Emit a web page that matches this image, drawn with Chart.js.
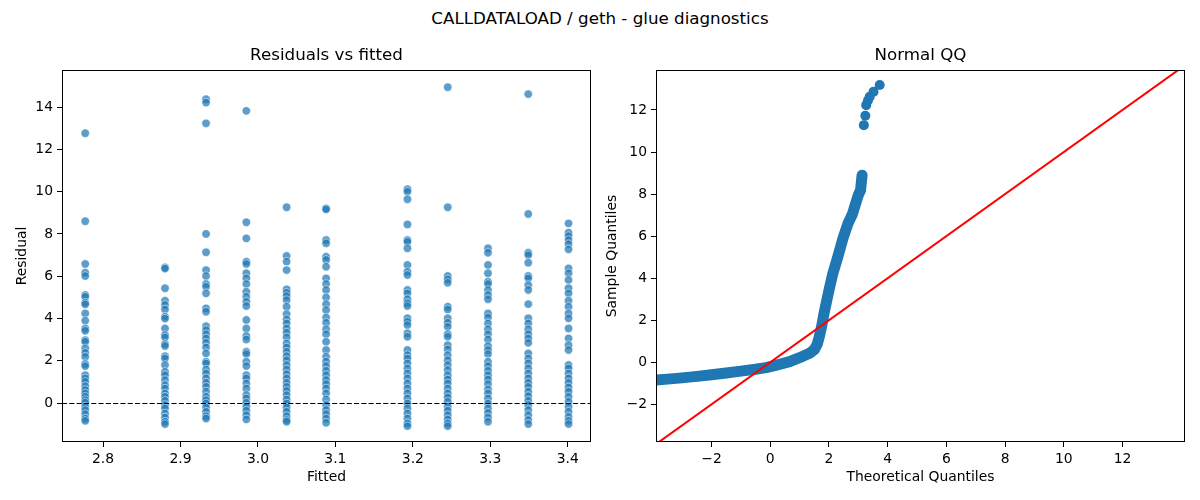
<!DOCTYPE html>
<html lang="en">
<head>
<meta charset="UTF-8">
<title>CALLDATALOAD / geth - glue diagnostics</title>
<script src="https://cdn.jsdelivr.net/npm/chart.js@4"></script>
<style>
  html, body { margin: 0; padding: 0; background: #fff; overflow: hidden; }
  #page { position: relative; width: 1200px; height: 500px; font-family: "DejaVu Sans", sans-serif; }
  #suptitle { position: absolute; top: 8px; left: 0; width: 1200px; text-align: center;
              font-size: 16.7px; line-height: 20px; color: #000; }
  .panel { position: absolute; top: 0; width: 600px; height: 500px; }
</style>
</head>
<body>
<div id="page">
  <div id="suptitle">CALLDATALOAD / geth - glue diagnostics</div>
  <div class="panel" style="left:0"><canvas id="resid" width="600" height="500"></canvas></div>
  <div class="panel" style="left:600px"><canvas id="qq" width="600" height="500"></canvas></div>
</div>
<script>
// fitted levels (one column of residuals each)
const fittedLevels = [2.777, 2.880, 2.933, 2.985, 3.037, 3.088, 3.193, 3.245, 3.297, 3.349, 3.401];

// residuals
const res2777 = [12.76, 8.6, 6.58, 6.17, 6.01, 5.11, 5.03, 4.75, 4.67, 4.24, 3.9, 3.53, 3.42, 2.98, 2.9, 2.59, 2.38, 2.19,
  1.85, 1.75, 1.32, 1.17, 1.01, 0.8, 0.62, 0.46, 0.3, 0.14, 0.02, -0.17, -0.33, -0.52, -0.73, -0.84];
const res2880 = [6.42, 6.36, 5.43, 4.84, 4.64, 4.43, 4.09, 4.0, 3.53, 3.22, 3.11, 2.79, 2.7, 2.22, 2.11, 1.8, 1.48, 1.32,
  1.09, 0.85, 0.69, 0.46, 0.3, 0.11, -0.09, -0.25, -0.49, -0.68, -0.88, -0.99];
const res2933 = [14.37, 14.21, 13.23, 8.0, 7.13, 6.29, 6.01, 5.63, 5.5, 5.19, 4.48, 4.32, 3.64, 3.45, 3.26, 3.06, 2.85, 2.63,
  2.35, 1.96, 1.88, 1.59, 1.4, 1.17, 0.96, 0.77, 0.54, 0.3, 0.14, -0.02, -0.21, -0.41, -0.62, -0.73];
const res2985 = [13.82, 8.55, 7.79, 6.69, 6.58, 6.14, 5.9, 5.63, 5.27, 5.03, 4.79, 4.59, 3.93, 3.53, 3.17, 3.01, 2.43, 2.32,
  1.96, 1.75, 1.32, 1.17, 0.93, 0.69, 0.38, 0.22, 0.02, -0.17, -0.36, -0.57, -0.77];
const res3037 = [9.26, 6.96, 6.69, 6.29, 5.38, 5.22, 5.06, 4.87, 4.56, 4.21, 3.96, 3.77, 3.53, 3.33, 3.11, 2.82, 2.63, 2.43,
  2.22, 2.03, 1.8, 1.59, 1.37, 1.17, 0.96, 0.77, 0.58, 0.38, 0.17, -0.02, -0.21, -0.41, -0.62, -0.8, -0.88];
const res3088 = [9.21, 9.16, 7.71, 7.56, 6.92, 6.77, 6.45, 5.9, 5.63, 5.35, 5.0, 4.68, 4.4, 4.05, 3.8, 3.49, 3.26, 2.9,
  2.51, 2.19, 1.96, 1.75, 1.53, 1.32, 1.09, 0.9, 0.69, 0.46, 0.17, -0.09, -0.33, -0.52, -0.73, -0.93];
const res3193 = [10.11, 10.0, 9.64, 8.45, 7.71, 7.63, 7.32, 6.53, 6.21, 6.06, 5.35, 5.19, 4.91, 4.72, 4.59, 4.01, 3.85, 3.69,
  3.3, 3.14, 2.51, 2.27, 2.11, 1.88, 1.64, 1.4, 1.17, 0.93, 0.69, 0.46, 0.22, -0.02, -0.25, -0.49, -0.73, -0.96, -1.09];
const res3245 = [14.94, 9.26, 6.01, 5.85, 5.69, 4.56, 4.43, 4.01, 3.8, 3.61, 3.26, 3.14, 2.74, 2.54, 2.27, 2.03, 1.8, 1.56,
  1.32, 1.12, 0.93, 0.69, 0.46, 0.27, 0.06, -0.17, -0.36, -0.57, -0.77, -0.96, -1.09];
const res3297 = [7.32, 7.11, 6.53, 6.14, 5.74, 5.63, 5.35, 5.11, 4.91, 4.24, 4.05, 3.77, 3.49, 3.26, 3.01, 2.7, 2.51, 2.32,
  1.96, 1.75, 1.53, 1.32, 1.12, 0.9, 0.65, 0.46, 0.22, -0.02, -0.25, -0.46, -0.68, -0.88];
const res3349 = [14.61, 8.94, 7.11, 7.0, 6.64, 6.01, 5.9, 5.58, 5.35, 4.68, 4.01, 3.77, 3.49, 3.26, 3.06, 2.85, 2.35, 2.11,
  1.88, 1.64, 1.4, 1.17, 0.96, 0.77, 0.54, 0.33, 0.11, -0.09, -0.33, -0.57, -0.8, -0.99];
const res3401 = [8.5, 8.06, 7.9, 7.71, 7.52, 7.27, 6.37, 6.14, 5.82, 5.43, 5.19, 4.84, 4.56, 4.24, 4.01, 3.53, 3.06, 2.74,
  2.51, 1.8, 1.64, 1.4, 1.17, 0.96, 0.74, 0.54, 0.3, 0.06, -0.17, -0.41, -0.65, -0.84, -0.99];
const residColumns = [res2777, res2880, res2933, res2985, res3037, res3088, res3193, res3245, res3297, res3349, res3401];

// QQ: theoretical vs sample quantiles along the dense band
const qqTheo = [-3.89, -3.5, -3.0, -2.5, -2.0, -1.5, -1.0, -0.5, -0.14, 0.25, 0.66, 1.0, 1.34, 1.5, 1.6, 1.67, 1.75, 1.83,
  1.93, 2.03, 2.13, 2.3, 2.48, 2.65, 2.8, 2.9, 3.0, 3.08, 3.1, 3.13];
const qqSample = [-0.84, -0.8, -0.74, -0.67, -0.59, -0.51, -0.42, -0.33, -0.25, -0.12, 0.03, 0.22, 0.43, 0.6, 0.85, 1.2, 1.69, 2.3,
  2.96, 3.6, 4.2, 5.0, 5.9, 6.6, 7.05, 7.5, 7.95, 8.2, 8.5, 8.9];
// the separated top tail
const qqTailTheo = [3.19, 3.24, 3.27, 3.33, 3.39, 3.52, 3.73];
const qqTailSample = [11.28, 11.73, 12.23, 12.45, 12.63, 12.87, 13.19];
const qqLineEnds = [-5, 15];

// ticks and ranges
const residXTicks = [2.8, 2.9, 3.0, 3.1, 3.2, 3.3, 3.4];
const residYTicks = [0, 2, 4, 6, 8, 10, 12, 14];
const qqXTicks = [-2, 0, 2, 4, 6, 8, 10, 12];
const qqYTicks = [-2, 0, 2, 4, 6, 8, 10, 12];
const residXRange = [2.747, 3.430];
const residYRange = [-1.84, 15.75];
const qqXRange = [-3.89, 14.13];
const qqYRange = [-3.79, 13.9];
const zeroLine = 0;

const FONT = "DejaVu Sans";
const tickFont = { family: FONT, size: 13.9 };
const blue = "#1f77b4";

function minusFmt(v) {
    return v < 0 ? "\u2212" + Math.abs(v) : String(v);
}

// box around the plot area, like matplotlib spines
const framePlugin = {
    id: "frame",
    afterDraw(chart) {
        const a = chart.chartArea, c = chart.ctx;
        c.save();
        c.strokeStyle = "#000";
        c.lineWidth = 1;
        c.strokeRect(Math.round(a.left) + 0.5, Math.round(a.top) + 0.5,
            Math.round(a.right - a.left) - 1, Math.round(a.bottom - a.top) - 1);
        c.restore();
    }
};

// dashed horizontal line at residual 0
const zeroPlugin = {
    id: "zeroLine",
    afterDatasetsDraw(chart) {
        const a = chart.chartArea, c = chart.ctx;
        const y = Math.round(chart.scales.y.getPixelForValue(zeroLine)) + 0.5;
        c.save();
        c.strokeStyle = "#000";
        c.lineWidth = 1;
        c.setLineDash([5.1, 2.2]);
        c.beginPath();
        c.moveTo(a.left, y);
        c.lineTo(a.right, y);
        c.stroke();
        c.restore();
    }
};

function axis(range, ticks, fmt, title, isX, size, titlePad) {
    return {
        type: "linear",
        position: isX ? "bottom" : "left",
        min: range[0],
        max: range[1],
        afterBuildTicks: s => { s.ticks = ticks.map(v => ({ value: v })); },
        afterFit: s => { if (isX) s.height = size; else s.width = size; },
        grid: { display: true, drawOnChartArea: false, drawTicks: true, tickLength: 5, color: "#000", tickWidth: 1 },
        border: { display: false },
        ticks: { color: "#000", font: tickFont, padding: 4, autoSkip: false, maxRotation: 0, callback: fmt },
        title: { display: true, text: title, color: "#000", font: tickFont, padding: titlePad }
    };
}

function panelTitle(text) {
    return {
        display: true, text: text, fullSize: false, color: "#000",
        font: { family: FONT, size: 16.7, weight: "normal" },
        padding: { top: 46, bottom: 4 }
    };
}

// residuals vs fitted
const residPoints = [];
residColumns.forEach((col, i) => {
    col.forEach(v => residPoints.push({ x: fittedLevels[i], y: v }));
});

new Chart(document.getElementById("resid"), {
    type: "scatter",
    data: {
        datasets: [{
            data: residPoints,
            pointRadius: 4.2,
            pointBackgroundColor: "rgba(31,119,180,0.72)",
            pointBorderColor: "rgba(255,255,255,0.7)",
            pointBorderWidth: 0.7
        }]
    },
    options: {
        responsive: false,
        animation: false,
        devicePixelRatio: 1,
        layout: { padding: { left: 0, right: 9, top: 0, bottom: 0 } },
        plugins: { legend: { display: false }, tooltip: { enabled: false }, title: panelTitle("Residuals vs fitted") },
        scales: {
            x: axis(residXRange, residXTicks, v => v.toFixed(1), "Fitted", true, 58, { top: 0, bottom: 14.7 }),
            y: axis(residYRange, residYTicks, v => minusFmt(v), "Residual", false, 62, { top: 14, bottom: 0 })
        }
    },
    plugins: [framePlugin, zeroPlugin]
});

// normal QQ
new Chart(document.getElementById("qq"), {
    type: "scatter",
    data: {
        datasets: [
            {
                data: qqLineEnds.map(v => ({ x: v, y: v })),
                showLine: true,
                borderColor: "#ff0000",
                borderWidth: 2,
                pointRadius: 0,
                order: 0
            },
            {
                data: qqTheo.map((t, i) => ({ x: t, y: qqSample[i] })),
                showLine: true,
                borderColor: blue,
                borderWidth: 11,
                borderCapStyle: "round",
                borderJoinStyle: "round",
                pointRadius: 5,
                pointBackgroundColor: blue,
                pointBorderWidth: 0,
                order: 1
            },
            {
                data: qqTailTheo.map((t, i) => ({ x: t, y: qqTailSample[i] })),
                pointRadius: 5,
                pointBackgroundColor: blue,
                pointBorderWidth: 0,
                order: 1
            }
        ]
    },
    options: {
        responsive: false,
        animation: false,
        devicePixelRatio: 1,
        layout: { padding: { left: 0, right: 15, top: 0, bottom: 0 } },
        plugins: { legend: { display: false }, tooltip: { enabled: false }, title: panelTitle("Normal QQ") },
        scales: {
            x: axis(qqXRange, qqXTicks, v => minusFmt(v), "Theoretical Quantiles", true, 58, { top: 0, bottom: 14.7 }),
            y: axis(qqYRange, qqYTicks, v => minusFmt(v), "Sample Quantiles", false, 56, { top: 3.7, bottom: 0 })
        }
    },
    plugins: [framePlugin]
});
</script>
</body>
</html>
